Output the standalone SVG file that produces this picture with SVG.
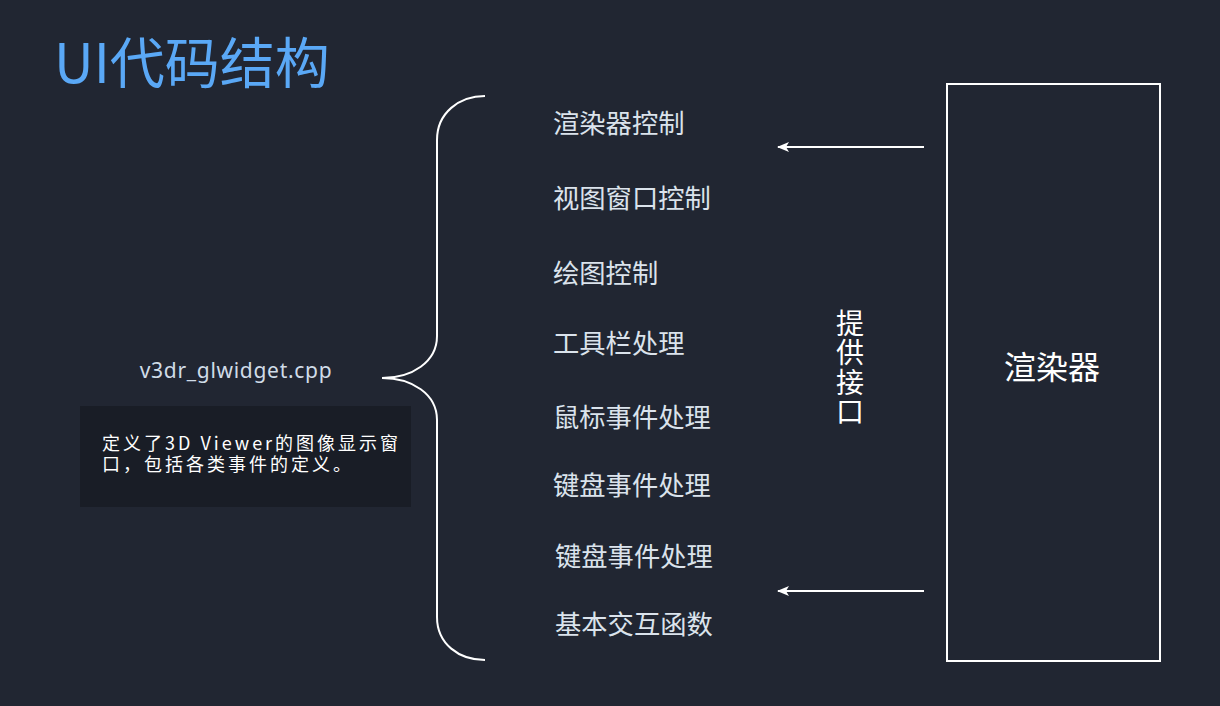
<svg xmlns="http://www.w3.org/2000/svg" width="1220" height="706" viewBox="0 0 1220 706">
  <defs>
    <style>
      .cjk { font-family: "Noto Sans CJK SC", "Noto Sans", sans-serif; }
      .item { font-size: 26.3px; fill: #dbe3ec; }
      .line { stroke: #ffffff; stroke-width: 2; fill: none; }
    </style>
    <marker id="arrow" markerWidth="12" markerHeight="10" refX="11" refY="5" orient="auto" markerUnits="userSpaceOnUse">
      <path d="M0,0 L12,5 L0,10 L3,5 Z" fill="#ffffff"/>
    </marker>
  </defs>
  <rect x="0" y="0" width="1220" height="706" fill="#212632"/>

  <g id="title">
    <text class="cjk" x="54" y="83" font-size="55" fill="#5aa8f6">UI代码结构</text>
  </g>

  <g id="file-node">
    <text x="236" y="378" font-family="Noto Sans, Open Sans, sans-serif" font-size="21" letter-spacing="0.7" fill="#d0dce8" text-anchor="middle">v3dr_glwidget.cpp</text>
  </g>

  <g id="file-desc">
    <rect x="80" y="406" width="331" height="101" fill="#191d26"/>
    <text class="cjk" font-size="18" letter-spacing="3" fill="#ffffff">
      <tspan x="102" y="450">定义了3D Viewer的图像显示窗</tspan>
      <tspan x="102" y="471">口，包括各类事件的定义。</tspan>
    </text>
  </g>

  <g id="items" class="cjk">
    <g id="item1"><text class="item" x="553" y="133">渲染器控制</text></g>
    <g id="item2"><text class="item" x="553" y="208">视图窗口控制</text></g>
    <g id="item3"><text class="item" x="553" y="283">绘图控制</text></g>
    <g id="item4"><text class="item" x="553" y="353">工具栏处理</text></g>
    <g id="item5"><text class="item" x="553" y="427">鼠标事件处理</text></g>
    <g id="item6"><text class="item" x="553" y="495">键盘事件处理</text></g>
    <g id="item7"><text class="item" x="555" y="566">键盘事件处理</text></g>
    <g id="item8"><text class="item" x="555" y="634">基本交互函数</text></g>
  </g>

  <g id="interface-label">
    <text class="cjk" x="850" y="309" font-size="28" letter-spacing="1.5" fill="#ffffff" style="writing-mode: vertical-rl">提供接口</text>
  </g>

  <g id="renderer">
    <rect x="947" y="84" width="213" height="577" class="line"/>
    <text class="cjk" x="1052" y="379" font-size="32" fill="#ffffff" text-anchor="middle">渲染器</text>
  </g>

  <g id="connectors">
    <path class="line" d="M485,96 C459,96 437,113 437,140 L437,336 C437,362 412,378 382,378 C412,378 437,394 437,420 L437,617 C437,644 459,660 485,660"/>
    <line class="line" x1="924" y1="147" x2="778" y2="147" marker-end="url(#arrow)"/>
    <line class="line" x1="924" y1="591" x2="778" y2="591" marker-end="url(#arrow)"/>
  </g>
</svg>
